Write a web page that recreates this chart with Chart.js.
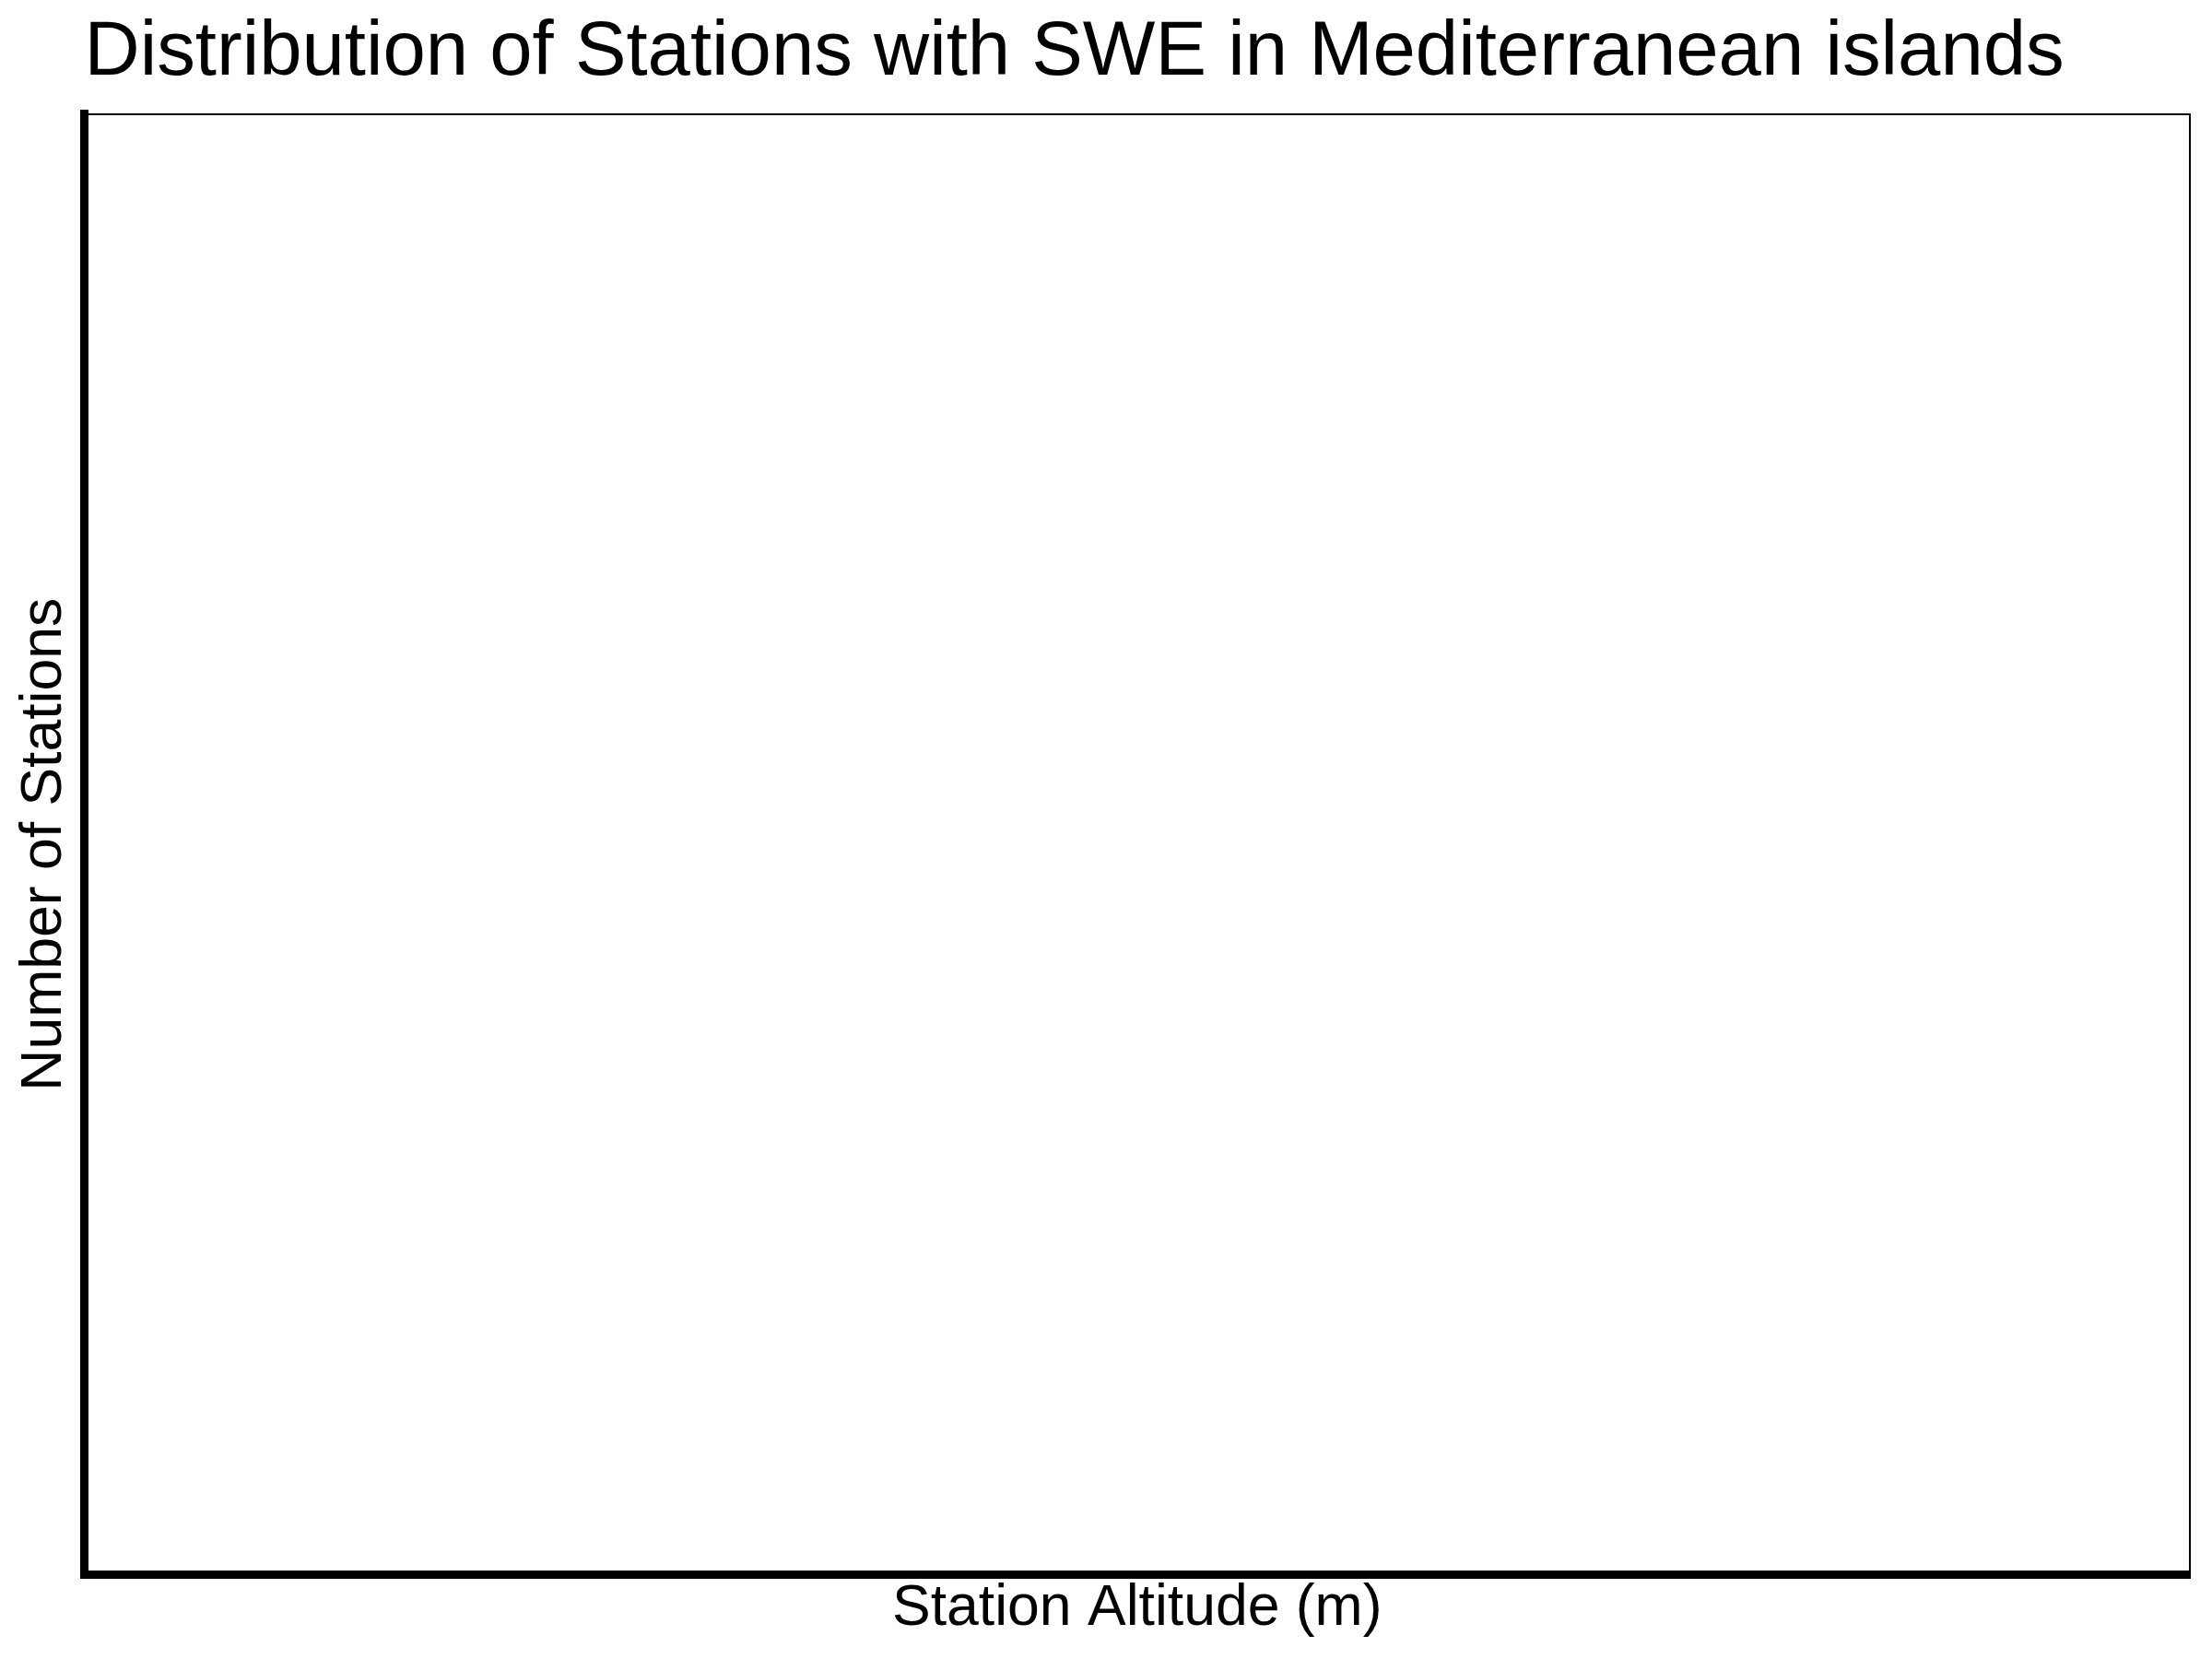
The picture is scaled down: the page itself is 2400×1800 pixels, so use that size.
<!DOCTYPE html>
<html>
<head>
<meta charset="utf-8">
<script src="https://cdn.jsdelivr.net/npm/chart.js@4/dist/chart.umd.min.js"></script>
<style>
  html, body { margin: 0; padding: 0; background: #ffffff; }
  #wrap { width: 2400px; height: 1800px; background: #ffffff; }
  canvas { display: block; }
</style>
</head>
<body>
<div id="wrap"><canvas id="c" width="2400" height="1800"></canvas></div>
<script>
// Data: the reference histogram contains no stations (empty plot)
const altitudeBins = [];
const stationCounts = [];
const titleText = 'Distribution of Stations with SWE in Mediterranean islands';
const xAxisLabel = 'Station Altitude (m)';
const yAxisLabel = 'Number of Stations';

const FONT = '"Liberation Sans", Arial, Helvetica, sans-serif';

function hiddenAxis(type, position, borderWidth) {
  return {
    type: type,
    position: position,
    display: true,
    grid: { display: false, drawTicks: false },
    ticks: { display: false },
    border: { display: true, color: '#000000', width: borderWidth },
    title: { display: false }
  };
}

const xAxis = hiddenAxis('category', 'bottom', 9);
xAxis.title = {
  display: true, text: xAxisLabel, color: '#000000',
  font: { family: FONT, size: 62.5, lineHeight: 1, weight: 'normal' },
  padding: { top: 6.5, bottom: 22.5 }
};
const yAxis = hiddenAxis('linear', 'left', 9);
yAxis.title = {
  display: true, text: yAxisLabel, color: '#000000',
  font: { family: FONT, size: 62.5, lineHeight: 1, weight: 'normal' },
  padding: { top: 17.5, bottom: 11.5 }
};

new Chart(document.getElementById('c'), {
  type: 'bar',
  data: {
    labels: altitudeBins,
    datasets: [{
      label: yAxisLabel,
      data: stationCounts,
      backgroundColor: '#1f77b4'
    }]
  },
  options: {
    responsive: false,
    animation: false,
    devicePixelRatio: 1,
    layout: { padding: { left: 0, top: 0, right: 24, bottom: 0 } },
    plugins: {
      legend: { display: false },
      tooltip: { enabled: false },
      title: {
        display: true,
        text: titleText,
        align: 'start',
        fullSize: false,
        color: '#000000',
        font: { family: FONT, size: 83.3, lineHeight: 1.2, weight: 'normal' },
        padding: { top: 8.5, bottom: 15.5 }
      }
    },
    scales: {
      x: xAxis,
      x2: hiddenAxis('category', 'top', 2),
      y: yAxis,
      y2: hiddenAxis('linear', 'right', 2)
    }
  }
});
</script>
</body>
</html>
